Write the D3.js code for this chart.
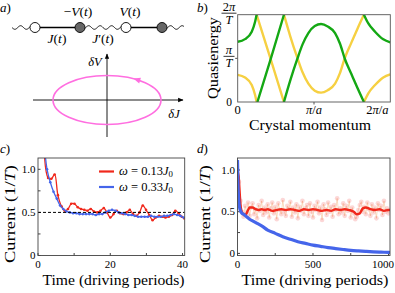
<!DOCTYPE html>
<html>
<head>
<meta charset="utf-8">
<script src="https://cdn.jsdelivr.net/npm/d3@7"></script>
<style>
html, body { margin: 0; padding: 0; background: #fff; }
</style>
</head>
<body>
<script>
// ---- data ----

// panel b: quasienergy bands, k in units of pi/a, E in units of pi/T
const greenBands = [
  [[0, 1.38], [0.096, 1.44], [0.184, 1.61], [0.228, 1.84], [0.248, 2]],
  [[0.258, 0], [0.432, 0.98], [0.606, 2]],
  [[0.606, 0], [0.69, 0.5], [0.78, 0.98], [0.85, 1.32], [0.926, 1.58], [1.01, 1.74], [1.092, 1.786],
   [1.18, 1.73], [1.276, 1.58], [1.34, 1.34], [1.406, 0.98], [1.49, 0.64], [1.57, 0.32], [1.654, 0]],
  [[1.654, 2], [1.712, 1.80], [1.8, 1.61], [1.908, 1.436], [2, 1.366]]
];
const yellowBands = [
  [[0, 0.62], [0.096, 0.56], [0.184, 0.39], [0.228, 0.16], [0.248, 0]],
  [[0.248, 2], [0.432, 0.98], [0.606, 0]],
  [[0.606, 2], [0.69, 1.5], [0.78, 1.02], [0.85, 0.68], [0.926, 0.42], [1.01, 0.26], [1.092, 0.214],
   [1.18, 0.27], [1.276, 0.42], [1.34, 0.66], [1.406, 1.02], [1.49, 1.36], [1.57, 1.68], [1.654, 2]],
  [[1.654, 0], [1.712, 0.20], [1.8, 0.39], [1.908, 0.564], [2, 0.634]]
];

// panel c: current vs time (driving periods)
const cRedTime = [1.6, 2.8, 3.7, 4.6, 5.5, 6.5, 7.4, 8.3, 9.2, 10.1, 11.0, 11.9, 12.8, 13.7, 14.6, 15.5, 16.4,
  17.3, 18.2, 19.1, 20.0, 20.9, 21.8, 22.7, 23.6, 24.5, 25.4, 26.3, 27.2, 28.1, 29.0, 29.9, 30.8, 31.7,
  32.6, 33.5, 34.4, 35.3, 36.2, 37.1, 38.0, 38.9, 39.8, 40.5];
const cRedCurrent = [1.30, 0.90, 0.89, 0.94, 0.70, 0.57, 0.52, 0.54, 0.60, 0.60, 0.56, 0.54, 0.53, 0.52, 0.54,
  0.51, 0.50, 0.52, 0.55, 0.50, 0.44, 0.48, 0.52, 0.49, 0.48, 0.50, 0.53, 0.48, 0.46, 0.50, 0.58, 0.53,
  0.47, 0.41, 0.44, 0.46, 0.45, 0.44, 0.45, 0.47, 0.52, 0.49, 0.45, 0.43];
const cBlueTime = [1.7, 2.5, 3.4, 4.3, 5.2, 6.1, 7.0, 7.9, 8.8, 9.7, 10.6, 11.5, 12.4, 13.3, 14.2, 15.1, 16.0,
  16.9, 17.8, 18.7, 19.6, 20.5, 21.4, 22.3, 23.2, 24.1, 25.0, 25.9, 26.8, 27.7, 28.6, 29.5, 30.4, 31.3,
  32.2, 33.1, 34.0, 34.9, 35.8, 36.7, 37.6, 38.5, 39.4, 40.3];
const cBlueCurrent = [1.30, 1.00, 0.85, 0.74, 0.66, 0.58, 0.54, 0.51, 0.50, 0.49, 0.49, 0.48, 0.48, 0.48, 0.48,
  0.48, 0.47, 0.48, 0.48, 0.50, 0.52, 0.53, 0.52, 0.50, 0.49, 0.48, 0.47, 0.47, 0.46, 0.45, 0.45, 0.45,
  0.45, 0.46, 0.45, 0.45, 0.45, 0.46, 0.46, 0.47, 0.48, 0.47, 0.46, 0.44];
const legendLabels = [["0.13", "#f0281c"], ["0.33", "#4565ea"]];

// panel d: long time
const dBlueTime = [0, 3, 6, 10, 15, 20, 30, 40, 60, 80, 100, 130, 160, 200, 250, 300, 350, 400, 450, 500,
  550, 600, 650, 700, 750, 800, 850, 900, 950, 1000, 1010];
const dBlueCurrent = [1.12, 0.85, 0.70, 0.60, 0.54, 0.51, 0.48, 0.47, 0.44, 0.41, 0.39, 0.36, 0.33, 0.28,
  0.24, 0.20, 0.17, 0.14, 0.12, 0.10, 0.085, 0.07, 0.058, 0.047, 0.037, 0.03, 0.024, 0.019, 0.015, 0.012, 0.011];
const dRedTime = [0, 4, 8, 12, 16, 20, 25, 30, 40, 50, 60, 70, 80, 100, 120, 140, 160, 180, 200, 230, 260, 290,
  320, 350, 380, 410, 440, 470, 500, 530, 560, 590, 620, 650, 680, 710, 740, 770, 790, 810, 830, 850, 880,
  910, 940, 970, 1000, 1010];
const dRedCurrent = [1.0, 0.96, 0.92, 0.80, 0.68, 0.58, 0.52, 0.49, 0.47, 0.46, 0.48, 0.52, 0.55, 0.55, 0.53,
  0.52, 0.53, 0.52, 0.53, 0.51, 0.52, 0.53, 0.52, 0.53, 0.52, 0.51, 0.53, 0.52, 0.53, 0.52, 0.51, 0.52, 0.51,
  0.53, 0.52, 0.53, 0.52, 0.50, 0.47, 0.48, 0.54, 0.55, 0.53, 0.52, 0.53, 0.51, 0.52, 0.52];
// raw (unsmoothed) red data, one sample every 10 periods
const dRawStep = 10;
const dRawCurrent = [1.00, 0.86, 0.63, 0.50, 0.44, 0.57, 0.49, 0.61, 0.45, 0.55,
  0.60, 0.47, 0.53, 0.42, 0.58, 0.51, 0.63, 0.46, 0.55, 0.49,
  0.59, 0.43, 0.54, 0.61, 0.48, 0.56, 0.41, 0.60, 0.52, 0.47,
  0.64, 0.50, 0.45, 0.57, 0.53, 0.62, 0.44, 0.55, 0.49, 0.59,
  0.42, 0.56, 0.51, 0.63, 0.47, 0.54, 0.58, 0.45, 0.60, 0.50,
  0.43, 0.57, 0.52, 0.62, 0.48, 0.55, 0.40, 0.59, 0.53, 0.46,
  0.61, 0.50, 0.56, 0.44, 0.58, 0.52, 0.66, 0.47, 0.54, 0.49,
  0.60, 0.45, 0.57, 0.51, 0.63, 0.43, 0.55, 0.48, 0.41, 0.44,
  0.52, 0.58, 0.62, 0.50, 0.56, 0.47, 0.61, 0.53, 0.45, 0.59,
  0.49, 0.55, 0.42, 0.60, 0.52, 0.57, 0.46, 0.63, 0.50, 0.54, 0.48];

const cTicksX = [0, 10, 20, 30, 40], cLabelsX = [0, 20, 40];
const dTicksX = [0, 250, 500, 750, 1000], dLabelsX = [0, 500, 1000];
const curTicksY = [0, 0.25, 0.5, 0.75, 1.0], curLabelsY = [0, 0.5, 1.0];

// ---- colours ----
var colRed = '#f0281c', colBlue = '#4565ea', colGreen = '#14a814', colYellow = '#f6d042', colPink = '#ff6ee0';

const svg = d3.select('body').append('svg').attr('width', 395).attr('height', 293)
  .style('display', 'block')
  .attr('font-family', "'Liberation Serif', 'DejaVu Serif', serif");
const defs = svg.append('defs');

// write a run of [text, style] pieces ('i' italic, 's' subscript)
function mathText(sel, parts) {
  parts.forEach(p => {
    const t = sel.append('tspan').text(p[0]);
    if (p[1] && p[1].includes('i')) t.attr('font-style', 'italic');
    if (p[1] && p[1].includes('s')) t.attr('font-size', '0.7em').attr('dy', '0.25em');
  });
  return sel;
}

function panelLabel(x, y, letter) {
  mathText(svg.append('text').attr('x', x).attr('y', y).attr('font-size', 13), [[letter, 'i'], [')']]);
}

//
// a) chain + ellipse
//
panelLabel(0, 12, 'a');
const chainY = 27.5;
const bonds = [[12, 35, 'wave'], [35, 80, 'line'], [80, 126, 'wave'], [126, 162, 'line'], [162, 184, 'wave']];
const sites = [[35, false], [80, true], [126, false], [162, true]];
bonds.forEach(b => {
  if (b[2] === 'line') {
    svg.append('line').attr('x1', b[0]).attr('x2', b[1]).attr('y1', chainY).attr('y2', chainY)
      .attr('stroke', '#000').attr('stroke-width', 1.3);
  } else {
    const pts = d3.range(b[0], b[1] + 0.01, 0.5).map(x => [x, chainY + 1.8 * Math.sin(2 * Math.PI * (x - b[0]) / 11.5)]);
    svg.append('path').attr('d', d3.line()(pts)).attr('fill', 'none').attr('stroke', '#000').attr('stroke-width', 0.9);
  }
});
svg.selectAll('circle.site').data(sites).join('circle').attr('class', 'site')
  .attr('cx', d => d[0]).attr('cy', chainY).attr('r', 5)
  .attr('fill', d => d[1] ? '#666' : '#fff').attr('stroke', '#000').attr('stroke-width', 0.9);

const chainLabels = [
  [78, 16, [['−'], ['V', 'i'], ['('], ['t', 'i'], [')']]],
  [130, 16, [['V', 'i'], ['('], ['t', 'i'], [')']]],
  [57, 43, [['J', 'i'], ['('], ['t', 'i'], [')']]],
  [103, 43, [['J', 'i'], ['′'], ['('], ['t', 'i'], [')']]]
];
chainLabels.forEach(l => {
  mathText(svg.append('text').attr('x', l[0]).attr('y', l[1]).attr('text-anchor', 'middle').attr('font-size', 13.5), l[2]);
});

// axes of the (dJ, dV) plane
defs.append('marker').attr('id', 'arr').attr('viewBox', '0 0 10 10').attr('refX', 9).attr('refY', 5)
  .attr('markerWidth', 6).attr('markerHeight', 6).attr('orient', 'auto')
  .append('path').attr('d', 'M0,1 L10,5 L0,9 Z').attr('fill', '#000');
svg.append('line').attr('x1', 33).attr('x2', 183).attr('y1', 100).attr('y2', 100)
  .attr('stroke', '#000').attr('stroke-width', 0.9).attr('marker-end', 'url(#arr)');
svg.append('line').attr('x1', 107).attr('x2', 107).attr('y1', 137).attr('y2', 54)
  .attr('stroke', '#000').attr('stroke-width', 0.9).attr('marker-end', 'url(#arr)');
svg.append('ellipse').attr('cx', 107).attr('cy', 100).attr('rx', 54).attr('ry', 24.5)
  .attr('fill', 'none').attr('stroke', colPink).attr('stroke-width', 1.6);
// direction arrow on the loop
const th = 56 * Math.PI / 180;
const ax = 107 + 54 * Math.cos(th), ay = 100 - 24.5 * Math.sin(th);
const ang = Math.atan2(-24.5 * Math.cos(th), -54 * Math.sin(th)) * 180 / Math.PI;
svg.append('path').attr('d', 'M4,0 L-3,-3 L-3,3 Z').attr('fill', colPink)
  .attr('transform', `translate(${ax},${ay}) rotate(${ang})`);
mathText(svg.append('text').attr('x', 95).attr('y', 66).attr('text-anchor', 'middle').attr('font-size', 12.5),
  [['δ', 'i'], ['V', 'i']]);
mathText(svg.append('text').attr('x', 174).attr('y', 118).attr('text-anchor', 'middle').attr('font-size', 12.5),
  [['δ', 'i'], ['J', 'i']]);

//
// b) quasienergy bands
//
panelLabel(197, 12, 'b');
const bx = d3.scaleLinear().domain([0, 2]).range([237.7, 390.3]);
const by = d3.scaleLinear().domain([0, 2]).range([102, 14.7]);
defs.append('clipPath').attr('id', 'clipB').append('rect')
  .attr('x', 237.7).attr('y', 14.7).attr('width', 152.6).attr('height', 87.3);
const bandLine = d3.line().x(d => bx(d[0])).y(d => by(d[1])).curve(d3.curveMonotoneX);
const gb = svg.append('g').attr('clip-path', 'url(#clipB)');
gb.selectAll('path.yel').data(yellowBands).join('path').attr('class', 'yel')
  .attr('d', bandLine).attr('fill', 'none').attr('stroke', colYellow).attr('stroke-width', 2.4);
gb.selectAll('path.grn').data(greenBands).join('path').attr('class', 'grn')
  .attr('d', bandLine).attr('fill', 'none').attr('stroke', colGreen).attr('stroke-width', 2.4);
svg.append('rect').attr('x', 237.7).attr('y', 14.7).attr('width', 152.6).attr('height', 87.3)
  .attr('fill', 'none').attr('stroke', '#555').attr('stroke-width', 0.9);
// ticks (outside)
svg.append('line').attr('x1', bx(0) - 2.5).attr('x2', bx(0)).attr('y1', by(1)).attr('y2', by(1)).attr('stroke', '#555');
svg.append('line').attr('x1', bx(1)).attr('x2', bx(1)).attr('y1', by(0)).attr('y2', by(0) + 2.5).attr('stroke', '#555');
// y tick labels as fractions
function fracLabel(cx, yBar, num, barW) {
  mathText(svg.append('text').attr('x', cx).attr('y', yBar - 2.5).attr('text-anchor', 'middle').attr('font-size', 12.5), num);
  svg.append('line').attr('x1', cx - barW / 2).attr('x2', cx + barW / 2).attr('y1', yBar).attr('y2', yBar)
    .attr('stroke', '#000').attr('stroke-width', 0.8);
  mathText(svg.append('text').attr('x', cx).attr('y', yBar + 10.5).attr('text-anchor', 'middle').attr('font-size', 12.5), [['T', 'i']]);
}
fracLabel(229, by(2) - 1.5, [['2'], ['π', 'i']], 15);
fracLabel(229, by(1) - 2, [['π', 'i']], 11);
svg.append('text').attr('x', 229).attr('y', by(0) + 3.5).attr('text-anchor', 'middle').attr('font-size', 11.5).text('0');
const bTickLabels = [[0, [['0']]], [1, [['π', 'i'], ['/'], ['a', 'i']]], [2, [['2'], ['π', 'i'], ['/'], ['a', 'i']]]];
bTickLabels.forEach(t => {
  const x = t[0] === 2 ? bx(2) - 13 : bx(t[0]);
  mathText(svg.append('text').attr('x', x).attr('y', 114).attr('text-anchor', 'middle').attr('font-size', 12.5), t[1]);
});
svg.append('text').attr('x', 310).attr('y', 130).attr('text-anchor', 'middle').attr('font-size', 15)
  .attr('textLength', 122).attr('lengthAdjust', 'spacingAndGlyphs').text('Crystal momentum');
svg.append('text').attr('transform', 'translate(218,58) rotate(-90)').attr('text-anchor', 'middle')
  .attr('font-size', 15).attr('textLength', 82).attr('lengthAdjust', 'spacingAndGlyphs').text('Quasienergy');

//
// c), d) current panels
//
function currentFrame(id, x, y, ticksX, labelsX, titleX, titleLen, yLabelX) {
  const [x0, x1] = x.range(), [y0, y1] = [255.5, 158];
  defs.append('clipPath').attr('id', id).append('rect').attr('x', x0).attr('y', y1).attr('width', x1 - x0).attr('height', y0 - y1);
  const g = svg.append('g');
  ticksX.forEach(t => g.append('line').attr('x1', x(t)).attr('x2', x(t)).attr('y1', y0).attr('y2', y0 - 2.5).attr('stroke', '#444'));
  curTicksY.forEach(t => g.append('line').attr('x1', x0).attr('x2', x0 + 2.5).attr('y1', y(t)).attr('y2', y(t)).attr('stroke', '#444'));
  labelsX.forEach((t, i) => g.append('text')
    .attr('x', i === labelsX.length - 1 && t > 100 ? 394 : x(t)).attr('y', 268)
    .attr('text-anchor', i === labelsX.length - 1 && t > 100 ? 'end' : 'middle')
    .attr('font-size', 11).text(t));
  curLabelsY.forEach(t => g.append('text').attr('x', x0 - 2.5).attr('y', y(t) + 3.5).attr('text-anchor', 'end')
    .attr('font-size', 11).text(t === 0 ? '0' : d3.format('.1f')(t)));
  g.append('text').attr('x', titleX).attr('y', 285).attr('text-anchor', 'middle').attr('font-size', 15)
    .attr('textLength', titleLen).attr('lengthAdjust', 'spacingAndGlyphs').text('Time (driving periods)');
  const yl = g.append('text').attr('transform', `translate(${yLabelX},214) rotate(-90)`).attr('text-anchor', 'middle')
    .attr('font-size', 15).attr('textLength', 98).attr('lengthAdjust', 'spacingAndGlyphs');
  mathText(yl, [['Current (1/'], ['T', 'i'], [')']]);
  return g;
}
function frameRect(x) {
  const [x0, x1] = x.range();
  svg.append('rect').attr('x', x0).attr('y', 158).attr('width', x1 - x0).attr('height', 97.5)
    .attr('fill', 'none').attr('stroke', '#444').attr('stroke-width', 0.9);
}

// c)
panelLabel(0, 153, 'c');
const cx = d3.scaleLinear().domain([0, 40.6]).range([38, 184.7]);
const cy = d3.scaleLinear().domain([0, 1]).range([255.5, 169.3]);
currentFrame('clipC', cx, cy, cTicksX, cLabelsX, 113.5, 142, 15);
const gc = svg.append('g').attr('clip-path', 'url(#clipC)');
const cSeries = [[cRedTime, cRedCurrent, colRed], [cBlueTime, cBlueCurrent, colBlue]];
cSeries.forEach(s => {
  const pts = s[0].map((t, i) => [t, s[1][i]]);
  gc.append('path').attr('d', d3.line().x(d => cx(d[0])).y(d => cy(d[1])).curve(d3.curveCatmullRom)(pts))
    .attr('fill', 'none').attr('stroke', s[2]).attr('stroke-width', 1.3);
  gc.selectAll(null).data(pts).join('circle').attr('cx', d => cx(d[0])).attr('cy', d => cy(d[1]))
    .attr('r', 1.3).attr('fill', s[2]);
});
gc.append('line').attr('x1', cx(0)).attr('x2', cx(40.6)).attr('y1', cy(0.5)).attr('y2', cy(0.5))
  .attr('stroke', '#000').attr('stroke-width', 1).attr('stroke-dasharray', '3,2');
frameRect(cx);
// legend
legendLabels.forEach((l, i) => {
  const ly = 171.5 + i * 15.5;
  svg.append('line').attr('x1', 99).attr('x2', 114).attr('y1', ly).attr('y2', ly).attr('stroke', l[1]).attr('stroke-width', 2.2);
  mathText(svg.append('text').attr('x', 119).attr('y', ly + 3.5).attr('font-size', 12.5),
    [['ω', 'i'], [' = ' + l[0]], ['J', 'i'], ['0', 's']]);
});

// d)
panelLabel(197, 153, 'd');
const dx = d3.scaleLinear().domain([0, 1010]).range([237.5, 390]);
const dy = d3.scaleLinear().domain([0, 1]).range([253.4, 170]);
currentFrame('clipD', dx, dy, dTicksX, dLabelsX, 315, 147, 210);
const gd = svg.append('g').attr('clip-path', 'url(#clipD)');
const rawPts = dRawCurrent.map((v, i) => [i * dRawStep, v]);
const dLine = d3.line().x(d => dx(d[0])).y(d => dy(d[1]));
gd.append('path').attr('d', dLine(rawPts)).attr('fill', 'none')
  .attr('stroke', 'rgba(240,150,70,0.55)').attr('stroke-width', 0.6);
gd.selectAll(null).data(rawPts).join('circle').attr('cx', d => dx(d[0])).attr('cy', d => dy(d[1]))
  .attr('r', 2.3).attr('fill', 'rgba(244,110,110,0.28)');
gd.append('path').attr('d', dLine.curve(d3.curveMonotoneX)(dRedTime.map((t, i) => [t, dRedCurrent[i]])))
  .attr('fill', 'none').attr('stroke', colRed).attr('stroke-width', 2.4);
gd.append('path').attr('d', dLine.curve(d3.curveMonotoneX)(dBlueTime.map((t, i) => [t, dBlueCurrent[i]])))
  .attr('fill', 'none').attr('stroke', colBlue).attr('stroke-width', 3.2);
frameRect(dx);
</script>
</body>
</html>
